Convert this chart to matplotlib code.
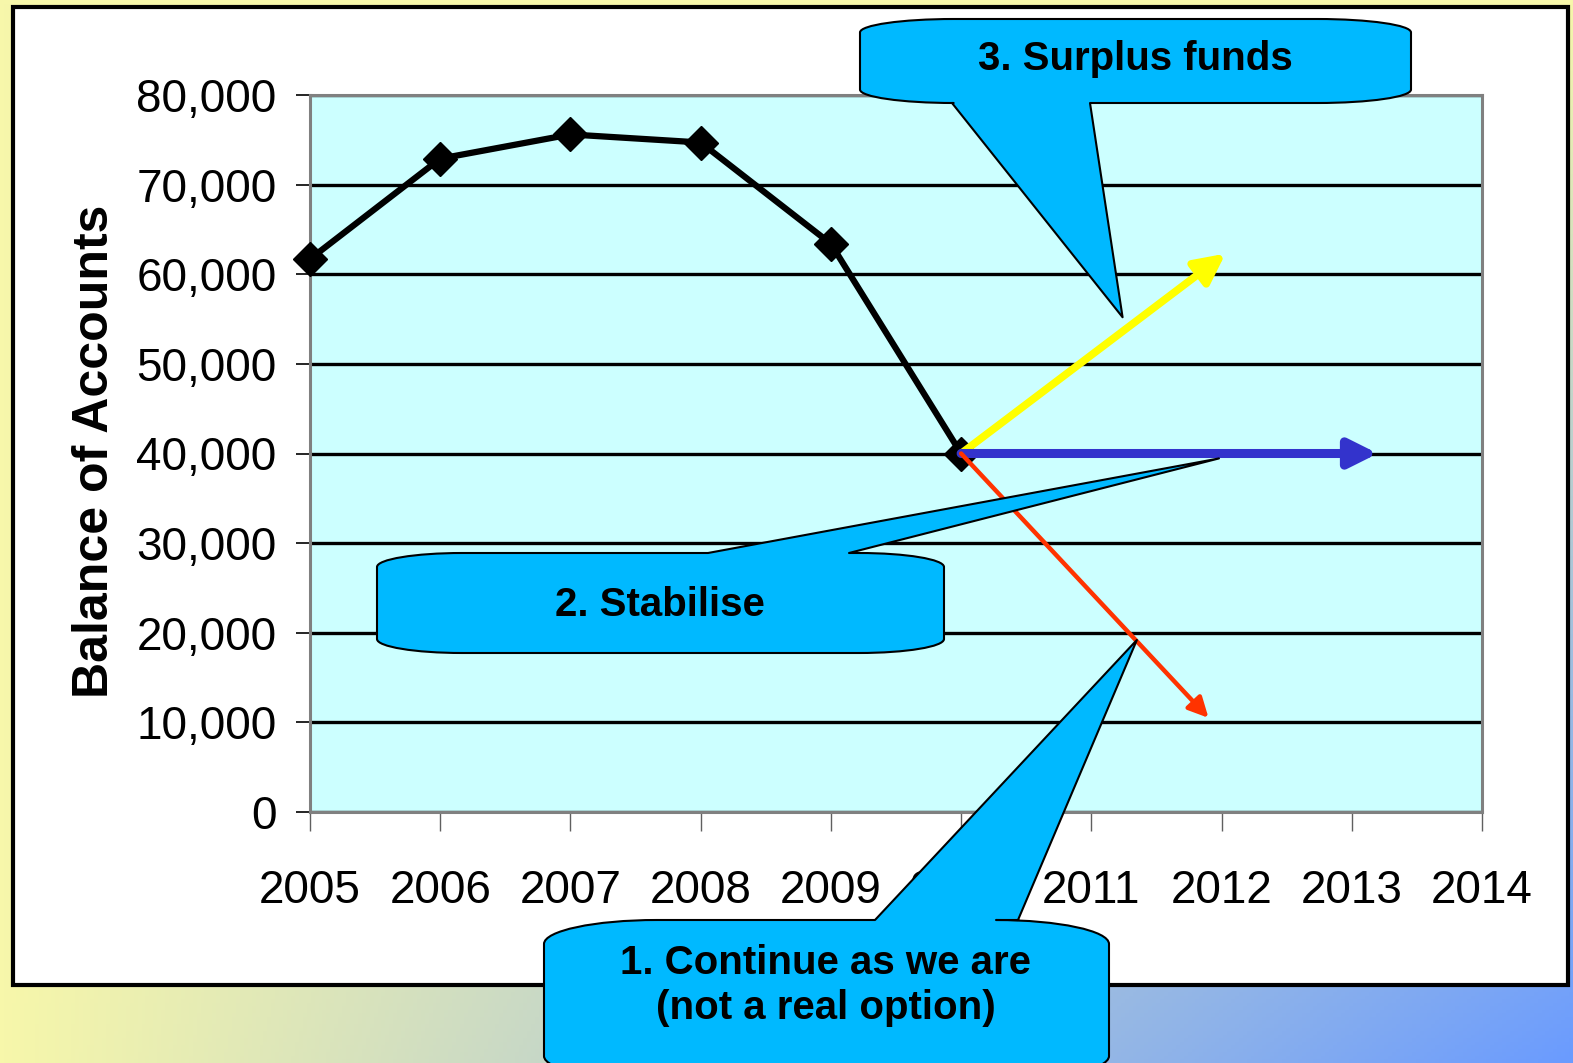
import numpy as np
import matplotlib
matplotlib.use('Agg')
import matplotlib.pyplot as plt
from matplotlib.path import Path
from matplotlib.patches import PathPatch, Rectangle

plt.rcParams['font.family'] = ['Liberation Sans', 'DejaVu Sans']

# balance of accounts per year
years = [2005, 2006, 2007, 2008, 2009, 2010]
balance = [61700, 72900, 75600, 74700, 63400, 40000]
year_ticks = list(range(2005, 2015))
y_ticks = list(range(0, 80001, 10000))

# the three options, drawn as arrows from the 2010 balance
start = (2010, 40000)
surplus_end = (2012.03, 62300)
stable_end = (2013.2, 40000)
continue_end = (2011.9, 10500)

# points the callout pointers touch
tip_surplus = (2011.24, 55200)
tip_stable = (2011.98, 39450)
tip_continue = (2011.35, 19200)

W, H = 1573, 1063
fig = plt.figure(figsize=(W / 100, H / 100), dpi=100)

# slide background: yellow fading to blue towards the bottom right
bg = fig.add_axes([0, 0, 1, 1], zorder=0)
xx, yy = np.meshgrid(np.linspace(0, 1, 400), np.linspace(0, 1, 300))
t = (xx * yy)[..., None]
yellow = np.array([247, 247, 170]) / 255
blue = np.array([106, 155, 255]) / 255
bg.imshow(yellow * (1 - t) + blue * t, extent=(0, W, H, 0), aspect='auto')
bg.add_patch(Rectangle((13, 7), 1555, 978, facecolor='white',
                       edgecolor='black', lw=3))
bg.set_xlim(0, W)
bg.set_ylim(H, 0)
bg.axis('off')

# chart
ax = fig.add_axes([310 / W, (H - 812) / H, (1482 - 310) / W, (812 - 95) / H],
                  zorder=2)
ax.set_facecolor('#CCFFFF')
ax.plot(years, balance, color='black', lw=4.5, marker='D', ms=17,
        zorder=3, clip_on=False)
ax.set_xlim(2005, 2014)
ax.set_ylim(0, 80000)
ax.set_xticks(year_ticks)
ax.set_xticklabels([str(y) for y in year_ticks])
ax.set_yticks(y_ticks)
ax.set_yticklabels([f'{v:,}' for v in y_ticks])
ax.grid(axis='y', color='black', lw=2.4)
ax.set_axisbelow(True)
for s in ax.spines.values():
    s.set_color('#808080')
    s.set_linewidth(2.2)
ax.tick_params(axis='y', direction='out', length=10, width=1.2,
               labelsize=33, pad=14)
ax.tick_params(axis='x', direction='out', length=13.7, width=1,
               color='#606060', labelsize=33, pad=27)
fig.text(95 / W, 1 - 451 / H, 'Balance of Accounts', rotation=90,
         ha='center', va='center', fontsize=36, fontweight='bold')

arrows = [(surplus_end, '#FFFF00', 5.5, 45),
          (stable_end, '#3333CC', 6.5, 42),
          (continue_end, '#FF3300', 3.2, 30)]
for end, col, lw, ms in arrows:
    ax.annotate('', xy=end, xytext=start, zorder=4,
                arrowprops=dict(arrowstyle='-|>,head_length=0.4,head_width=0.2',
                                color=col, lw=lw, mutation_scale=ms,
                                shrinkA=0, shrinkB=0))

# callouts on a pixel overlay
ov = fig.add_axes([0, 0, 1, 1], zorder=5)
ov.set_xlim(0, W)
ov.set_ylim(H, 0)
ov.axis('off')
ov.patch.set_alpha(0)


def to_px(pt):
    d = ax.transData.transform(pt)
    return d[0], H - d[1]


def callout(box, side, base, tip, kx, ky):
    x0, y0, x1, y1 = box
    rx, ry = kx * (x1 - x0), ky * (y1 - y0)
    c = 0.5523
    verts, codes = [], []

    def add(p, code=Path.LINETO):
        verts.append(p)
        codes.append(code)

    def corner(p0, cp, p1):
        add((p0[0] + c * (cp[0] - p0[0]), p0[1] + c * (cp[1] - p0[1])), Path.CURVE4)
        add((p1[0] + c * (cp[0] - p1[0]), p1[1] + c * (cp[1] - p1[1])), Path.CURVE4)
        add(p1, Path.CURVE4)

    add((x0 + rx, y0), Path.MOVETO)
    if side == 'top':
        add((base[0], y0)); add(tip); add((base[1], y0))
    add((x1 - rx, y0))
    corner((x1 - rx, y0), (x1, y0), (x1, y0 + ry))
    add((x1, y1 - ry))
    corner((x1, y1 - ry), (x1, y1), (x1 - rx, y1))
    if side == 'bottom':
        add((base[1], y1)); add(tip); add((base[0], y1))
    add((x0 + rx, y1))
    corner((x0 + rx, y1), (x0, y1), (x0, y1 - ry))
    add((x0, y0 + ry))
    corner((x0, y0 + ry), (x0, y0), (x0 + rx, y0))
    add((x0 + rx, y0), Path.CLOSEPOLY)
    ov.add_patch(PathPatch(Path(verts, codes), facecolor='#00B9FF',
                           edgecolor='black', lw=1.5, joinstyle='round'))


callout((860, 19, 1411, 103), 'bottom', (952, 1090), to_px(tip_surplus), 0.17, 0.16)
callout((377, 553, 944, 653), 'top', (708, 849), to_px(tip_stable), 0.15, 0.14)
callout((544, 920, 1109, 1080), 'top', (875, 1018), to_px(tip_continue), 0.2, 0.15)

ov.text(1135, 59, '3. Surplus funds', ha='center', va='center',
        fontsize=29, fontweight='bold')
ov.text(660, 605, '2. Stabilise', ha='center', va='center',
        fontsize=29, fontweight='bold')
ov.text(826, 963, '1. Continue as we are', ha='center', va='center',
        fontsize=29, fontweight='bold')
ov.text(826, 1008, '(not a real option)', ha='center', va='center',
        fontsize=29, fontweight='bold')

fig.savefig('out.png', dpi=100)
